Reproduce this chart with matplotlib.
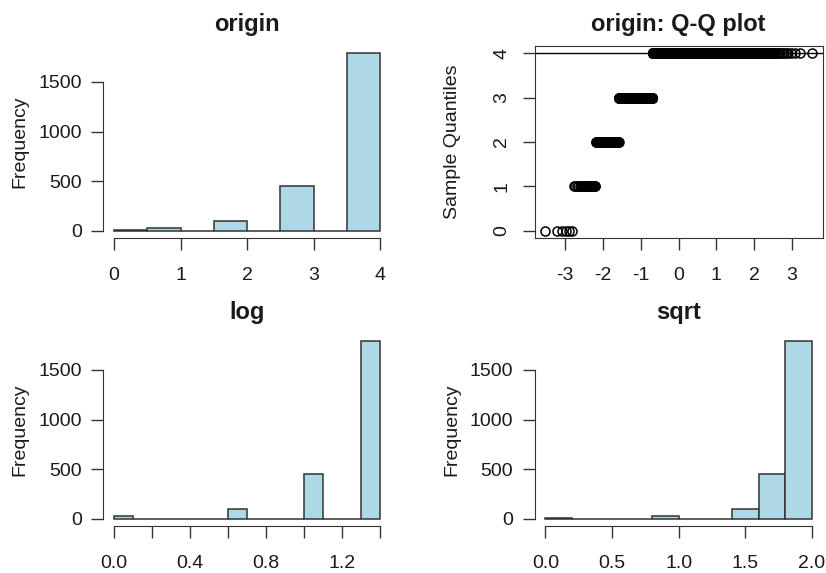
import numpy as np
import matplotlib
matplotlib.use('Agg')
import matplotlib.pyplot as plt
from statistics import NormalDist

# observed values and how often each occurs
values = [0, 1, 2, 3, 4]
counts = [6, 27, 100, 447, 1790]

# histogram break points (R style, right-closed bins)
breaks_origin = np.linspace(0, 4, 9)
breaks_log = np.linspace(0, 1.4, 15)
breaks_sqrt = np.linspace(0, 2, 11)

xticks_origin = [0, 1, 2, 3, 4]
xticks_log = np.linspace(0, 1.4, 8)
xlabels_log = ['0.0', '', '0.4', '', '0.8', '', '1.2', '']
xticks_sqrt = [0.0, 0.5, 1.0, 1.5, 2.0]
yticks_freq = [0, 500, 1000, 1500]
qq_xticks = [-3, -2, -1, 0, 1, 2, 3]
qq_yticks = [0, 1, 2, 3, 4]

LINE = '#333333'
TEXT = '#1a1a1a'

plt.rcParams['font.family'] = ['Liberation Sans', 'DejaVu Sans']
plt.rcParams['font.size'] = 14
plt.rcParams['axes.unicode_minus'] = False
plt.rcParams['text.color'] = TEXT
plt.rcParams['xtick.labelcolor'] = TEXT
plt.rcParams['ytick.labelcolor'] = TEXT
plt.rcParams['xtick.color'] = LINE
plt.rcParams['ytick.color'] = LINE
plt.rcParams['axes.edgecolor'] = LINE

W, H = 826, 573
fig = plt.figure(figsize=(W / 100, H / 100), dpi=100)


def box(left, top, right, bottom):
    return [left / W, 1 - bottom / H, (right - left) / W, (bottom - top) / H]


def r_hist(ax, x, breaks, xticks, xlabels=None):
    idx = np.clip(np.searchsorted(breaks, x, side='left') - 1, 0, len(breaks) - 2)
    freq = np.bincount(idx, minlength=len(breaks) - 1)
    ax.bar(breaks[:-1], freq, width=np.diff(breaks), align='edge',
           color='lightblue', edgecolor=LINE, linewidth=1.1)
    pad = 0.04 * (breaks[-1] - breaks[0])
    ax.set_xlim(breaks[0] - pad, breaks[-1] + pad)
    ax.set_ylim(-0.04 * freq.max(), 1.04 * freq.max())
    ax.set_xticks(xticks)
    if xlabels is not None:
        ax.set_xticklabels(xlabels)
    ax.set_yticks(yticks_freq)
    ax.spines['top'].set_visible(False)
    ax.spines['right'].set_visible(False)
    ax.spines['left'].set_bounds(yticks_freq[0], yticks_freq[-1])
    ax.spines['bottom'].set_bounds(xticks[0], xticks[-1])
    ax.tick_params(axis='x', direction='out', length=8.6, width=1, pad=12)
    ax.tick_params(axis='y', direction='out', length=8.6, width=1, pad=7)


x = np.repeat(values, counts).astype(float)
cols = [(103.4, 391.0), (534.7, 822.5)]
rows = [(46.0, 238.0), (334.0, 526.0)]

# origin histogram
ax1 = fig.add_axes(box(cols[0][0], rows[0][0], cols[0][1], rows[0][1]))
r_hist(ax1, x, breaks_origin, xticks_origin)

# Q-Q plot
ax2 = fig.add_axes(box(cols[1][0], rows[0][0], cols[1][1], rows[0][1]))
n = len(x)
probs = (np.arange(1, n + 1) - 0.5) / n
theo = np.array([NormalDist().inv_cdf(p) for p in probs])
samp = np.sort(x)
ax2.plot(theo, samp, 'o', mfc='none', mec='black', ms=6.5, mew=1.1)
yq = np.quantile(samp, [0.25, 0.75])
xq = np.array([NormalDist().inv_cdf(0.25), NormalDist().inv_cdf(0.75)])
slope = (yq[1] - yq[0]) / (xq[1] - xq[0])
ax2.axline((0, yq[0] - slope * xq[0]), slope=slope, color='black', lw=1)
xr = theo.max() - theo.min()
ax2.set_xlim(theo.min() - 0.04 * xr, theo.max() + 0.04 * xr)
yr = samp.max() - samp.min()
ax2.set_ylim(samp.min() - 0.04 * yr, samp.max() + 0.04 * yr)
ax2.set_xticks(qq_xticks)
ax2.set_yticks(qq_yticks)
ax2.tick_params(axis='x', direction='out', length=8.6, width=1, pad=12)
ax2.tick_params(axis='y', direction='out', length=8.6, width=1, pad=9,
                labelrotation=90)
for lab in ax2.get_yticklabels():
    lab.set_verticalalignment('center')

# log histogram
ax3 = fig.add_axes(box(cols[0][0], rows[1][0], cols[0][1], rows[1][1]))
r_hist(ax3, np.log(x[x > 0]), breaks_log, xticks_log, xlabels_log)

# sqrt histogram
ax4 = fig.add_axes(box(cols[1][0], rows[1][0], cols[1][1], rows[1][1]))
r_hist(ax4, np.sqrt(x), breaks_sqrt, xticks_sqrt)

titles = ['origin', 'origin: Q-Q plot', 'log', 'sqrt']
ylabels = ['Frequency', 'Sample Quantiles', 'Frequency', 'Frequency']
title_y = [25, 313]
ylab_x = [20, 452]
for k, (t, yl) in enumerate(zip(titles, ylabels)):
    r, c = divmod(k, 2)
    cx = (cols[c][0] + cols[c][1]) / 2
    cy = (rows[r][0] + rows[r][1]) / 2
    fig.text(cx / W, 1 - title_y[r] / H, t, ha='center', va='center',
             fontsize=17, fontweight='bold')
    fig.text(ylab_x[c] / W, 1 - cy / H, yl, ha='center', va='center',
             rotation=90)

fig.savefig('out.png', dpi=100)
